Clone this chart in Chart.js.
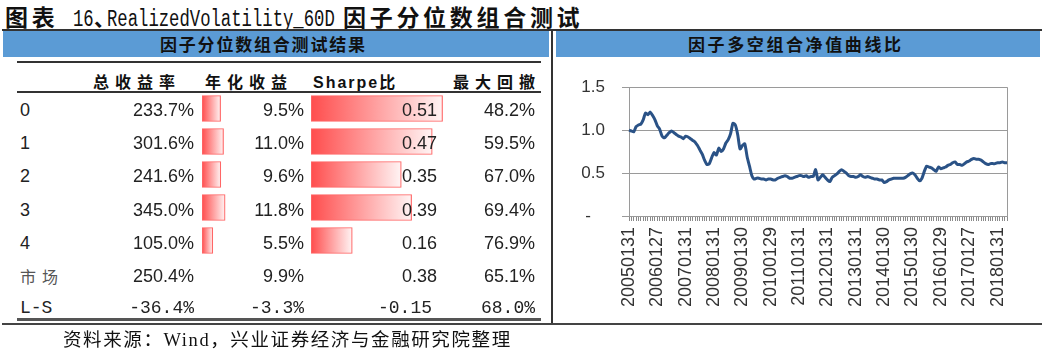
<!DOCTYPE html>
<html>
<head>
<meta charset="utf-8">
<script src="https://cdn.jsdelivr.net/npm/chart.js@4.4.1/dist/chart.umd.min.js"></script>
<style>
body{margin:0;background:#fff;width:1044px;height:350px;position:relative;overflow:hidden;font-family:"Liberation Sans","Noto Sans CJK SC",sans-serif;color:#222}
.abs{position:absolute;white-space:nowrap}
.cjk{font-family:"Noto Sans CJK SC",sans-serif}
.mono{font-family:"Liberation Mono","Noto Sans CJK SC",monospace}
.line{position:absolute;background:#333}
.hdr{position:absolute;background:#5b9bd5;top:31px;height:26px}
.hdrtxt{font-family:"Noto Sans CJK SC",sans-serif;font-weight:bold;font-size:17px;letter-spacing:1.8px;line-height:26px;top:31px;color:#111}
.th{font-family:"Noto Sans CJK SC",sans-serif;font-weight:bold;font-size:16px;letter-spacing:6px;line-height:24px;top:69px;color:#111}
.cell{font-size:18px;line-height:24px;text-align:right;width:120px}
.title{left:5px;top:1px;line-height:30px;color:#111}
.title span{display:inline-block;white-space:nowrap}
.tc{font-family:"Noto Sans CJK SC",sans-serif;font-size:23px;font-weight:bold;letter-spacing:3.7px}
.tl{font-family:"Liberation Mono",monospace;font-size:23px;transform:scaleX(0.75);transform-origin:0 50%}
</style>
</head>
<body>
<!-- title -->
<div class="abs title"><span class="tl" style="width:0"></span><span class="tc" style="width:68px">图表</span><span class="tl" style="width:21px">16</span><span class="tc" style="width:13px;font-size:21px">、</span><span class="tl" style="width:236px">RealizedVolatility_60D</span><span class="tc">因子分位数组合测试</span></div>

<!-- frame -->
<div class="line" style="left:2px;top:29px;width:1040px;height:1.5px"></div>
<div class="hdr" style="left:3px;width:546px"></div>
<div class="hdr" style="left:556px;width:484px"></div>
<div class="line" style="left:551px;top:30px;width:1.5px;height:295px"></div>
<div class="line" style="left:2px;top:323px;width:1040px;height:1.5px;background:#444"></div>
<div class="abs hdrtxt" style="left:160px">因子分位数组合测试结果</div>
<div class="abs hdrtxt" style="left:688px;letter-spacing:2.6px">因子多空组合净值曲线比</div>

<!-- table rules -->
<div class="line" style="left:17px;top:61px;width:524px;height:2px"></div>
<div class="line" style="left:17px;top:91px;width:524px;height:2px"></div>
<div class="line" style="left:17px;top:318px;width:524px;height:2.5px;background:#555"></div>

<div class="abs th" style="left:93px">总收益率</div>
<div class="abs th" style="left:205px">年化收益</div>
<div class="abs th" style="left:313px;letter-spacing:2px"><span style="font-family:'Liberation Sans'">Sharpe</span>比</div>
<div class="abs th" style="left:453px">最大回撤</div>

<div class="abs" style="left:202px;top:91.5px;width:90px;height:165px"><canvas id="annBars"></canvas></div>
<div class="abs" style="left:311px;top:91.5px;width:150px;height:165px"><canvas id="shpBars"></canvas></div>
<div id="rows"></div>

<div class="abs" style="left:556px;top:60px;width:484px;height:262px"><canvas id="nav"></canvas></div>

<div class="abs" style="left:63px;top:327px;font-family:'Liberation Serif','Noto Sans CJK SC',serif;font-size:18.5px;line-height:26px;letter-spacing:1.6px;color:#111">资料来源：Wind，兴业证券经济与金融研究院整理</div>

<script>
// table data
const groups = ['0', '1', '2', '3', '4', '市场', 'L-S'];
const totalReturn = [233.7, 301.6, 241.6, 345.0, 105.0, 250.4, -36.4];
const annualReturn = [9.5, 11.0, 9.6, 11.8, 5.5, 9.9, -3.3];
const sharpe = [0.51, 0.47, 0.35, 0.39, 0.16, 0.38, -0.15];
const maxDrawdown = [48.2, 59.5, 67.0, 69.4, 76.9, 65.1, 68.0];

// long-short net value, month by month 2005-01 .. 2018-05
const yearLabels = ['20050131', '20060127', '20070131', '20080131', '20090130', '20100129', '20110131',
  '20120131', '20130131', '20140130', '20150130', '20160129', '20170127', '20180131'];
const navValues = [
  1.00, 0.99, 0.98, 1.04, 1.06, 1.07, 1.12, 1.20, 1.18, 1.21, 1.17, 1.12,
  1.05, 1.01, 0.93, 0.91, 0.94, 0.97, 0.99, 0.97, 0.95, 0.93, 0.92, 0.90,
  0.93, 0.92, 0.90, 0.88, 0.86, 0.82, 0.77, 0.72, 0.65, 0.60, 0.61, 0.68,
  0.74, 0.71, 0.79, 0.75, 0.78, 0.85, 0.89, 0.96, 1.08, 1.06, 0.95, 0.78,
  0.82, 0.84, 0.69, 0.58, 0.47, 0.43, 0.44, 0.44, 0.43, 0.43, 0.42, 0.43,
  0.43, 0.42, 0.42, 0.44, 0.45, 0.46, 0.47, 0.46, 0.44, 0.44, 0.45, 0.46,
  0.47, 0.47, 0.46, 0.47, 0.45, 0.46, 0.46, 0.54, 0.42, 0.45, 0.48, 0.45,
  0.42, 0.40, 0.45, 0.47, 0.49, 0.52, 0.54, 0.52, 0.50, 0.47, 0.46, 0.46,
  0.45, 0.46, 0.48, 0.46, 0.45, 0.46, 0.45, 0.44, 0.43, 0.43, 0.42, 0.42,
  0.39, 0.40, 0.42, 0.43, 0.44, 0.44, 0.44, 0.44, 0.44, 0.45, 0.47, 0.49,
  0.50, 0.48, 0.44, 0.41, 0.44, 0.52, 0.58, 0.57, 0.56, 0.54, 0.52, 0.57,
  0.55, 0.56, 0.57, 0.59, 0.60, 0.62, 0.63, 0.60, 0.60, 0.59, 0.61, 0.63,
  0.64, 0.66, 0.67, 0.66, 0.66, 0.65, 0.63, 0.61, 0.60, 0.61, 0.61, 0.61,
  0.62, 0.62, 0.63, 0.62, 0.62
];

const rowCenters = [110, 143, 176, 210, 243, 276, 308];
const rowsDiv = document.getElementById('rows');

function addCell(text, left, center, cls, style) {
  let d = document.createElement('div');
  d.className = 'abs ' + cls;
  d.style.left = left + 'px';
  d.style.top = (center - 12) + 'px';
  if (style) d.style.cssText += style;
  d.textContent = text;
  rowsDiv.appendChild(d);
}

for (let i = 0; i < groups.length; i++) {
  let c = rowCenters[i];
  let ls = groups[i] == 'L-S';
  if (groups[i] == '市场') {
    addCell(groups[i], 20, c, 'cjk', 'font-size:16px;line-height:24px;letter-spacing:6px;color:#555');
  } else {
    addCell(groups[i], 20, c, ls ? 'mono' : '', 'font-size:18px;line-height:24px');
  }
  let st = ls ? 'font-family:"Liberation Mono",monospace;' : '';
  addCell(totalReturn[i].toFixed(1) + '%', 194 - 120, c, 'cell', st);
  addCell(annualReturn[i].toFixed(1) + '%', 304 - 120, c, 'cell', st);
  addCell(sharpe[i].toFixed(2), (ls ? 432 : 437) - 120, c, 'cell', st);
  addCell(maxDrawdown[i].toFixed(1) + '%', 535 - 120, c, 'cell', st);
}

// data bars: red to white gradient per bar
function barFill(context) {
  const chart = context.chart;
  if (!chart.chartArea) return '#ff7070';
  const xs = chart.scales.x;
  const x0 = xs.getPixelForValue(0);
  const x1 = xs.getPixelForValue(context.raw);
  const g = chart.ctx.createLinearGradient(x0, 0, x1, 0);
  g.addColorStop(0, '#ff4d4d');
  g.addColorStop(1, '#fff4f4');
  return g;
}

function makeBars(id, values, maxVal) {
  return new Chart(document.getElementById(id), {
    type: 'bar',
    data: {
      labels: groups.slice(0, 5),
      datasets: [{
        data: values.slice(0, 5),
        backgroundColor: barFill,
        borderColor: '#ff6666',
        borderWidth: 1.2,
        borderSkipped: false,
        barThickness: 26
      }]
    },
    options: {
      indexAxis: 'y',
      responsive: true,
      maintainAspectRatio: false,
      animation: false,
      layout: { padding: 0 },
      plugins: { legend: { display: false }, tooltip: { enabled: false } },
      scales: {
        x: { display: false, min: 0, max: maxVal },
        y: { display: false }
      }
    }
  });
}

makeBars('annBars', annualReturn, 90 / 1.96);
makeBars('shpBars', sharpe, 150 / 258);

// net value line chart
const navLabels = [];
for (let i = 0; i < navValues.length; i++) {
  let y = 2005 + Math.floor(i / 12);
  let m = i % 12;
  navLabels.push(m == 0 ? yearLabels[y - 2005] : y + String(m + 1).padStart(2, '0'));
}

const frameBox = {
  id: 'frameBox',
  afterDraw(chart) {
    const { ctx, chartArea } = chart;
    ctx.save();
    ctx.strokeStyle = '#9a9a9a';
    ctx.lineWidth = 1;
    ctx.beginPath();
    ctx.moveTo(Math.round(chartArea.right) + 0.5, chartArea.top);
    ctx.lineTo(Math.round(chartArea.right) + 0.5, chartArea.bottom);
    ctx.stroke();
    ctx.restore();
  }
};

new Chart(document.getElementById('nav'), {
  type: 'line',
  plugins: [frameBox],
  data: {
    labels: navLabels,
    datasets: [{
      data: navValues,
      borderColor: '#2a5286',
      borderWidth: 3,
      pointRadius: 0,
      tension: 0.2,
      fill: false
    }]
  },
  options: {
    responsive: true,
    maintainAspectRatio: false,
    animation: false,
    layout: { padding: { top: 20, right: 33, bottom: 0, left: 0 } },
    plugins: { legend: { display: false }, tooltip: { enabled: false } },
    scales: {
      x: {
        afterFit(scale) { scale.height = 106; },
        grid: { drawOnChartArea: false, color: '#8a8a8a', tickLength: 5 },
        border: { color: '#9a9a9a' },
        ticks: {
          autoSkip: false,
          minRotation: 90,
          maxRotation: 90,
          padding: 6,
          color: '#333',
          font: { family: 'Liberation Sans', size: 18 },
          callback(v, i) { return i % 12 == 0 ? this.getLabelForValue(v) : ''; }
        }
      },
      y: {
        min: 0,
        max: 1.5,
        afterFit(scale) { scale.width = 73; },
        grid: { color: '#9a9a9a', tickLength: 7 },
        border: { color: '#9a9a9a' },
        ticks: {
          stepSize: 0.5,
          padding: 17,
          color: '#333',
          font: { family: 'Liberation Sans', size: 17 },
          callback(v) { return v == 0 ? '-   ' : v.toFixed(1); }
        }
      }
    }
  }
});
</script>
</body>
</html>
